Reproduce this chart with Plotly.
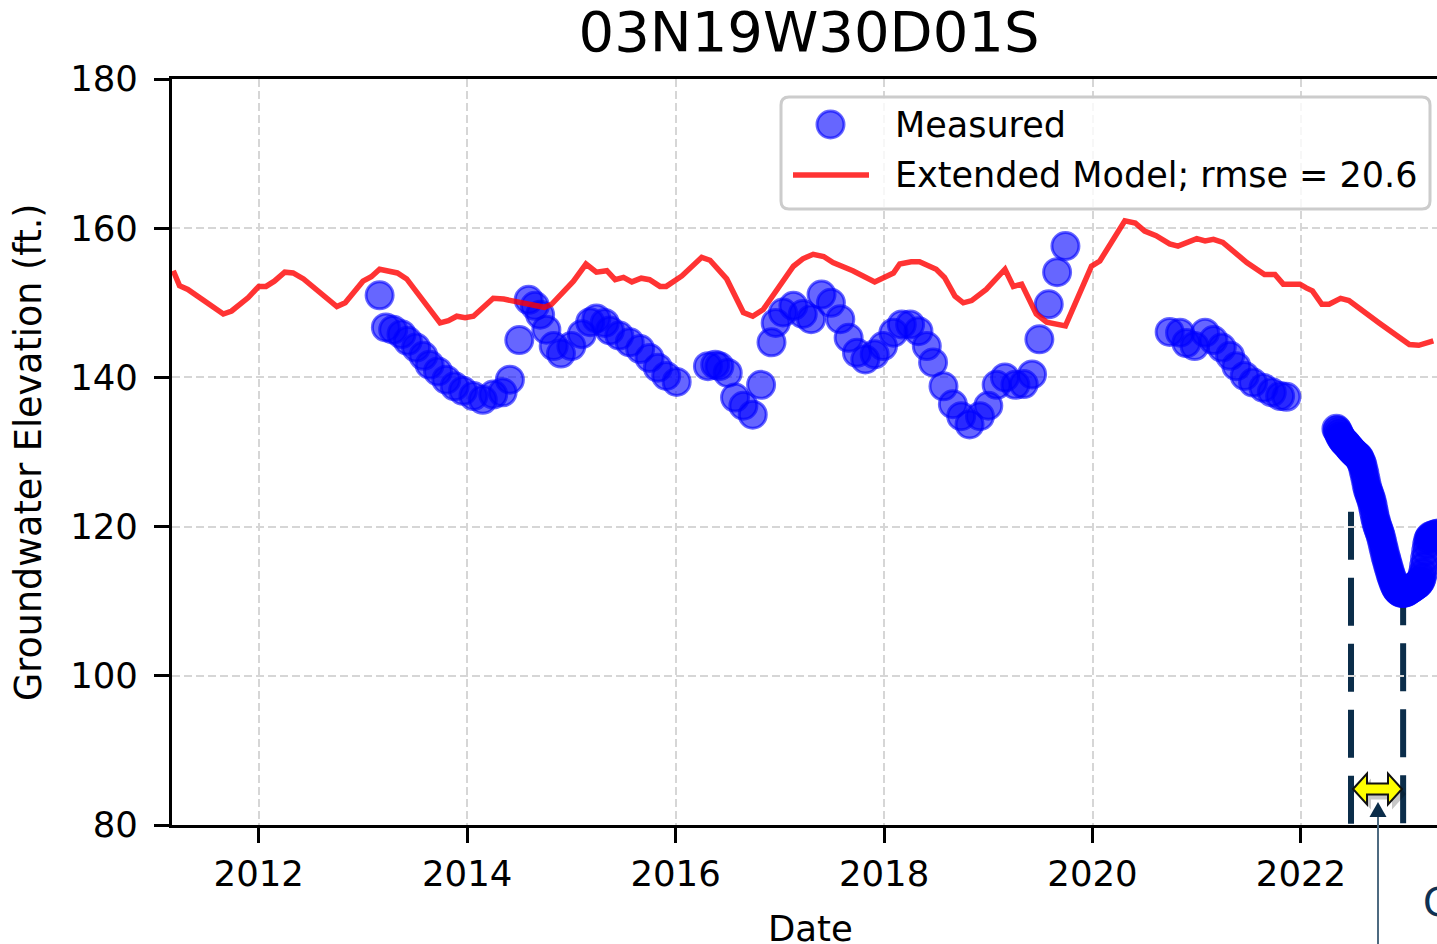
import plotly.graph_objects as go

# ---------------- data ----------------
measured_year = [
    2013.16, 2013.22, 2013.29, 2013.37, 2013.43, 2013.51, 2013.58, 2013.64, 2013.72, 2013.80,
    2013.88, 2013.96, 2014.06, 2014.15, 2014.25, 2014.34, 2014.41, 2014.50, 2014.59, 2014.65,
    2014.70, 2014.76, 2014.83, 2014.90, 2015.00, 2015.10, 2015.18, 2015.24, 2015.32, 2015.37,
    2015.46, 2015.56, 2015.66, 2015.75, 2015.83, 2015.91, 2016.01,
    2016.31, 2016.38, 2016.42, 2016.50, 2016.57, 2016.65, 2016.74, 2016.82,
    2016.92, 2016.96, 2017.03, 2017.13, 2017.22, 2017.30, 2017.40, 2017.49, 2017.58, 2017.66,
    2017.74, 2017.82, 2017.91, 2017.99, 2018.09, 2018.17, 2018.25, 2018.33, 2018.41, 2018.47,
    2018.57, 2018.66, 2018.74, 2018.82, 2018.92, 2019.00, 2019.08, 2019.16, 2019.26, 2019.34,
    2019.42, 2019.49, 2019.58, 2019.66, 2019.74,
    2020.74, 2020.84, 2020.90, 2020.98, 2021.08, 2021.16, 2021.24, 2021.32, 2021.38, 2021.46,
    2021.54, 2021.64, 2021.72, 2021.80, 2021.86,
    2022.34, 2022.35, 2022.36, 2022.37, 2022.38, 2022.39, 2022.40, 2022.41, 2022.42, 2022.43,
    2022.44, 2022.45, 2022.46, 2022.47, 2022.48, 2022.49, 2022.50, 2022.51, 2022.52, 2022.53,
    2022.54, 2022.55, 2022.56, 2022.57, 2022.58, 2022.59, 2022.60, 2022.61, 2022.62, 2022.63,
    2022.64, 2022.65, 2022.66, 2022.67, 2022.68, 2022.69, 2022.70, 2022.71, 2022.72, 2022.73,
    2022.74, 2022.75, 2022.76, 2022.77, 2022.78, 2022.79, 2022.80, 2022.81, 2022.82, 2022.83,
    2022.84, 2022.85, 2022.86, 2022.87, 2022.88, 2022.89, 2022.90, 2022.91, 2022.92, 2022.93,
    2022.94, 2022.95, 2022.96, 2022.97, 2022.98, 2022.99, 2023.00, 2023.01, 2023.02, 2023.03,
    2023.04, 2023.05, 2023.06, 2023.07, 2023.08, 2023.09, 2023.10, 2023.11, 2023.12, 2023.13,
    2023.14, 2023.15, 2023.16, 2023.17, 2023.18, 2023.19, 2023.20, 2023.21, 2023.22, 2023.23,
    2023.24, 2023.26, 2023.28, 2023.30, 2023.32,
]
measured_gwe = [
    151.0, 146.7, 146.4, 145.8, 144.9, 144.0, 142.9, 141.7, 140.8, 139.7,
    138.8, 138.2, 137.5, 137.0, 137.7, 138.0, 139.7, 145.0, 150.4, 149.6,
    148.4, 146.4, 144.2, 143.2, 144.2, 145.8, 147.4, 147.9, 147.3, 146.3,
    145.6, 144.7, 143.8, 142.6, 141.3, 140.2, 139.4,
    141.5, 141.7, 141.5, 140.6, 137.3, 136.2, 135.0, 139.0,
    144.7, 147.3, 148.7, 149.6, 148.5, 147.8, 151.1, 150.0, 147.8, 145.3,
    143.3, 142.4, 143.1, 144.2, 146.0, 147.1, 147.1, 146.2, 144.2, 142.0,
    138.8, 136.4, 134.8, 133.7, 134.8, 136.2, 139.0, 140.0, 139.0, 139.1,
    140.4, 145.1, 149.8, 154.1, 157.6,
    146.1, 146.0, 144.6, 144.2, 146.0, 145.0, 144.0, 142.9, 141.5, 140.2,
    139.3, 138.6, 138.0, 137.5, 137.4,
    133.1, 132.9, 132.6, 132.3, 132.0, 131.8, 131.6, 131.4, 131.3, 131.2,
    131.0, 130.8, 130.7, 130.5, 130.3, 130.2, 130.0, 129.9, 129.8, 129.6,
    129.5, 129.4, 129.2, 128.9, 128.6, 128.2, 127.6, 127.0, 126.3, 125.6,
    125.0, 124.6, 124.2, 123.8, 123.3, 122.7, 122.0, 121.3, 120.7, 120.2,
    119.8, 119.4, 119.0, 118.5, 117.9, 117.3, 116.7, 116.1, 115.6, 115.1,
    114.6, 114.1, 113.6, 113.2, 112.8, 112.4, 112.1, 111.8, 111.6, 111.4,
    111.3, 111.2, 111.1, 111.1, 111.1, 111.1, 111.2, 111.2, 111.3, 111.4,
    111.5, 111.6, 111.7, 111.8, 111.9, 112.0, 112.1, 112.2, 112.3, 112.4,
    112.6, 112.8, 113.2, 113.8, 114.7, 115.7, 116.7, 117.6, 118.2, 118.5,
    118.7, 118.8, 118.9, 119.0, 119.1,
]

model_year = [
    2011.18, 2011.24, 2011.32, 2011.66, 2011.74, 2011.90, 2012.00, 2012.07, 2012.15, 2012.25,
    2012.33, 2012.43, 2012.75, 2012.83, 2013.00, 2013.08, 2013.16, 2013.26, 2013.33, 2013.42,
    2013.74, 2013.82, 2013.90, 2013.98, 2014.06, 2014.25, 2014.35, 2014.74, 2014.81, 2015.02,
    2015.14, 2015.24, 2015.34, 2015.42, 2015.50, 2015.58, 2015.67, 2015.75, 2015.85, 2015.91,
    2016.06, 2016.25, 2016.33, 2016.49, 2016.65, 2016.74, 2016.84, 2017.13, 2017.22, 2017.32,
    2017.42, 2017.51, 2017.70, 2017.91, 2017.99, 2018.09, 2018.15, 2018.26, 2018.34, 2018.50,
    2018.58, 2018.68, 2018.76, 2018.84, 2018.98, 2019.16, 2019.24, 2019.32, 2019.46, 2019.56,
    2019.74, 2019.99, 2020.07, 2020.31, 2020.41, 2020.50, 2020.61, 2020.74, 2020.82, 2021.00,
    2021.08, 2021.16, 2021.25, 2021.48, 2021.65, 2021.75, 2021.83, 2021.99, 2022.05, 2022.11,
    2022.20, 2022.27, 2022.38, 2022.46, 2022.75, 2022.91, 2023.04, 2023.13, 2023.27,
]
model_gwe = [
    154.3, 152.3, 151.8, 148.5, 148.9, 150.7, 152.2, 152.2, 152.9, 154.1,
    154.0, 153.2, 149.5, 150.0, 152.9, 153.5, 154.5, 154.1, 154.0, 153.2,
    147.3, 147.6, 148.2, 148.0, 148.2, 150.6, 150.5, 149.4, 149.8, 152.9,
    155.2, 154.1, 154.3, 153.1, 153.4, 152.8, 153.3, 153.1, 152.2, 152.2,
    153.6, 156.1, 155.7, 153.2, 148.7, 148.2, 149.1, 154.9, 155.9, 156.5,
    156.2, 155.4, 154.3, 152.8, 153.4, 154.0, 155.2, 155.5, 155.5, 154.5,
    153.4, 150.9, 150.0, 150.3, 151.8, 154.5, 152.2, 152.5, 148.5, 147.4,
    146.9, 154.9, 155.6, 161.0, 160.7, 159.6, 159.0, 157.9, 157.6, 158.6,
    158.3, 158.5, 158.1, 155.4, 153.8, 153.8, 152.5, 152.5, 152.0, 151.6,
    149.8, 149.8, 150.6, 150.3, 147.3, 145.6, 144.4, 144.3, 144.9,
]

tick_years = [2012, 2014, 2016, 2018, 2020, 2022]
tick_year_labels = ["2012", "2014", "2016", "2018", "2020", "2022"]
tick_gwe = [80, 100, 120, 140, 160, 180]
tick_gwe_labels = ["80", "100", "120", "140", "160", "180"]

title_text = "03N19W30D01S"
legend_labels = ["Measured", "Extended Model; rmse = 20.6"]

# ---------------- layout geometry (pixels) ----------------
W, H = 1437, 944
L, T, R, B = 172, 79, 1437, 825
FONT = "DejaVu Sans"
NAVY = "#0b2d4a"


def px_x(p):
    return (p - L) / (R - L)


def px_y(p):
    return (B - p) / (B - T)


def poly_path(points):
    s = "M " + " L ".join(f"{px_x(x):.6f},{px_y(y):.6f}" for x, y in points)
    return s + " Z"


def rounded_rect_path(x0, y0, x1, y1, r):
    X, Y = px_x, px_y
    return (
        f"M {X(x0 + r)},{Y(y0)} L {X(x1 - r)},{Y(y0)} Q {X(x1)},{Y(y0)} {X(x1)},{Y(y0 + r)} "
        f"L {X(x1)},{Y(y1 - r)} Q {X(x1)},{Y(y1)} {X(x1 - r)},{Y(y1)} "
        f"L {X(x0 + r)},{Y(y1)} Q {X(x0)},{Y(y1)} {X(x0)},{Y(y1 - r)} "
        f"L {X(x0)},{Y(y0 + r)} Q {X(x0)},{Y(y0)} {X(x0 + r)},{Y(y0)} Z"
    )


fig = go.Figure()

fig.add_trace(go.Scatter(
    x=measured_year, y=measured_gwe, mode="markers", name=legend_labels[0],
    marker=dict(size=27, color="rgba(0,0,255,0.6)",
                line=dict(color="rgba(0,0,255,0.6)", width=3)),
    showlegend=False, hoverinfo="skip",
))
fig.add_trace(go.Scatter(
    x=model_year, y=model_gwe, mode="lines", name=legend_labels[1],
    line=dict(color="rgba(255,0,0,0.8)", width=5.5),
    showlegend=False, hoverinfo="skip",
))

axis_common = dict(
    ticks="outside", ticklen=15, tickwidth=3, tickcolor="black",
    showline=True, linewidth=3, linecolor="black",
    showgrid=True, gridcolor="#d6d6d6", gridwidth=2, griddash="8px,4px",
    zeroline=False, tickfont=dict(family=FONT, size=35.5, color="black"),
)

fig.update_xaxes(range=[2011.168, 2023.305], tickvals=tick_years, ticktext=tick_year_labels,
                 mirror=True, **axis_common)
fig.update_yaxes(range=[80, 180], tickvals=tick_gwe, ticktext=tick_gwe_labels,
                 mirror=False, ticklabelstandoff=9, **axis_common)

shapes = []
# dashed bracket lines (annotation overlay)
shapes.append(dict(type="line", xref="x", yref="y", x0=2022.48, x1=2022.48, y0=122.0, y1=80,
                   line=dict(color=NAVY, width=6, dash="48px,18px"), layer="below"))
shapes.append(dict(type="line", xref="x", yref="y", x0=2022.98, x1=2022.98, y0=113.2, y1=80,
                   line=dict(color=NAVY, width=6, dash="48px,18px"), layer="below"))

# yellow double arrow with shadow
cy = 789
arrow_pts = [(1353, cy), (1367, cy - 15.5), (1367, cy - 5.5), (1388, cy - 5.5), (1388, cy - 15.5),
             (1402, cy), (1388, cy + 15.5), (1388, cy + 5.5), (1367, cy + 5.5), (1367, cy + 15.5)]
shadow_pts = [(x + 4, y + 5) for x, y in arrow_pts]
shapes.append(dict(type="path", xref="paper", yref="paper", path=poly_path(shadow_pts),
                   fillcolor="rgba(0,0,0,0.22)", line=dict(width=0), layer="above"))
shapes.append(dict(type="path", xref="paper", yref="paper", path=poly_path(arrow_pts),
                   fillcolor="#ffff00", line=dict(color="#111111", width=2), layer="above"))

# thin pointer arrow from below
shapes.append(dict(type="line", xref="paper", yref="paper", x0=px_x(1378), x1=px_x(1378),
                   y0=px_y(950), y1=px_y(814), line=dict(color="#4d6a80", width=2), layer="above"))
shapes.append(dict(type="path", xref="paper", yref="paper",
                   path=poly_path([(1378, 802), (1386.5, 817), (1369.5, 817)]),
                   fillcolor=NAVY, line=dict(width=0), layer="above"))

# legend frame
shapes.append(dict(type="path", xref="paper", yref="paper",
                   path=rounded_rect_path(781, 97, 1430, 209, 8),
                   fillcolor="rgba(255,255,255,0.8)", line=dict(color="#cccccc", width=3),
                   layer="above"))
# legend marker
shapes.append(dict(type="circle", xref="paper", yref="paper", xsizemode="pixel", ysizemode="pixel",
                   xanchor=px_x(830.5), yanchor=px_y(124.5), x0=-13.5, x1=13.5, y0=-13.5, y1=13.5,
                   fillcolor="rgba(0,0,255,0.6)", line=dict(color="rgba(0,0,255,0.6)", width=3),
                   layer="above"))
# legend line
shapes.append(dict(type="line", xref="paper", yref="paper", x0=px_x(793), x1=px_x(869),
                   y0=px_y(175), y1=px_y(175), line=dict(color="rgba(255,0,0,0.8)", width=5.5),
                   layer="above"))

annotations = [
    dict(text=legend_labels[0], xref="paper", yref="paper", x=px_x(893), y=px_y(125),
         xanchor="left", yanchor="middle", showarrow=False,
         font=dict(family=FONT, size=35, color="black")),
    dict(text=legend_labels[1], xref="paper", yref="paper", x=px_x(893), y=px_y(175),
         xanchor="left", yanchor="middle", showarrow=False,
         font=dict(family=FONT, size=35, color="black")),
    dict(text="Date", xref="paper", yref="paper", x=px_x(810), y=px_y(928),
         xanchor="center", yanchor="middle", showarrow=False,
         font=dict(family=FONT, size=35.5, color="black")),
    dict(text="Groundwater Elevation (ft.)", xref="paper", yref="paper", x=px_x(28), y=px_y(452),
         xanchor="center", yanchor="middle", showarrow=False, textangle=-90,
         font=dict(family=FONT, size=36.5, color="black")),
    dict(text="C", xref="paper", yref="paper", x=px_x(1421), y=px_y(902),
         xanchor="left", yanchor="middle", showarrow=False,
         font=dict(family=FONT, size=39, color="#0f3152")),
]

fig.update_layout(
    width=W, height=H,
    margin=dict(l=L, r=W - R, t=T, b=H - B, pad=0),
    paper_bgcolor="white", plot_bgcolor="white",
    font=dict(family=FONT, size=35.5, color="black"),
    showlegend=False,
    hovermode=False,
    title=dict(text=title_text, x=px_x(809), xref="paper", xanchor="center",
               y=1 - 31 / H, yref="container", yanchor="middle",
               font=dict(family=FONT, size=56, color="black")),
    shapes=shapes,
    annotations=annotations,
)

fig.write_html(
    "out.html",
    config={"displayModeBar": False},
    post_script="document.body.style.margin='0';document.body.style.overflow='hidden';",
)
